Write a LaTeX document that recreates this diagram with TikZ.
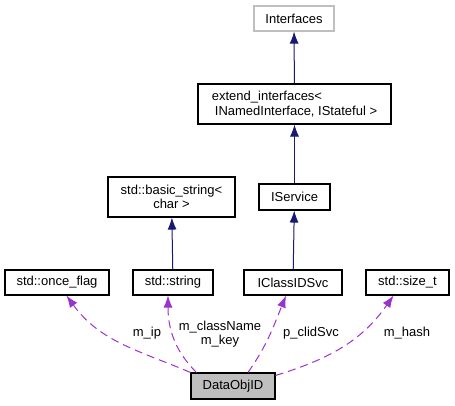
\documentclass[tikz,border=0pt]{standalone}
\usepackage{fontspec}
\setmainfont{Liberation Sans}
\usetikzlibrary{arrows.meta}

\definecolor{inhblue}{HTML}{191970}
\definecolor{usepurple}{HTML}{9A32CD}
\definecolor{boxgray}{HTML}{BFBFBF}

\tikzset{
    box/.style={draw=black, line width=1.1pt, fill=white, inner sep=2pt,
        minimum height=25pt, align=center,
        font=\fontsize{13}{14.3}\selectfont},
    inherit/.style={draw=inhblue, line width=1pt, -{Latex[length=12pt,width=9pt]}},
    member/.style={draw=usepurple, line width=1pt, dash pattern=on 8pt off 5pt,
        -{Latex[length=12pt,width=9pt]}},
    lbl/.style={align=center, inner sep=0pt, font=\fontsize{13}{14.3}\selectfont}
}

\begin{document}
\begin{tikzpicture}[x=1pt, y=1pt]
        \useasboundingbox (0,0) rectangle (455,405);

        % top of the hierarchy
        \node[box, draw=boxgray, minimum width=80pt] (interfaces) at (294,386.5) {Interfaces};
        \node[box, minimum width=193pt, minimum height=40pt, align=left] (extend) at (294.5,301)
            {extend\_interfaces<\\\hspace{3pt}INamedInterface, IStateful >};
        \node[box, minimum width=71pt, minimum height=26pt] (iservice) at (294.5,208) {IService};
        \node[box, minimum width=127pt, minimum height=40pt] (basicstr) at (171.5,208)
            {std::basic\_string<\\char >};

        % member types
        \node[box, minimum width=104pt] (once) at (57,122.5) {std::once\_flag};
        \node[box, minimum width=80pt] (string) at (173,122.5) {std::string};
        \node[box, minimum width=98pt] (iclassid) at (293,122.5) {IClassIDSvc};
        \node[box, minimum width=83pt] (sizet) at (407.5,122.5) {std::size\_t};

        % the class
        \node[box, fill=boxgray, minimum width=84pt, minimum height=26pt] (dobj) at (233,19) {DataObjID};

        % inheritance
        \draw[inherit] (extend) -- (interfaces);
        \draw[inherit] (iservice) -- (extend);
        \draw[inherit] (iclassid) -- (iservice);
        \draw[inherit] (string) -- (basicstr);

        % members
        \draw[member] (dobj.north west) to[out=157, in=-54] (once);
        \draw[member] ([xshift=6pt]dobj.north west) to[out=135, in=-90] ([xshift=-5pt]string.south);
        \draw[member] ([xshift=15pt]dobj.north) to[out=55, in=-112] ([xshift=-7pt]iclassid.south);
        \draw[member] ([yshift=-3pt]dobj.north east) to[out=17, in=-125] ([xshift=-14pt]sizet.south);

        % member names
        \node[lbl] (lip) at (147,72) {m\_ip};
        \node[lbl] (lkey) at (220,71) {m\_className\\m\_key};
        \node[lbl] (lclid) at (311,72) {p\_clidSvc};
        \node[lbl] (lhash) at (407,72) {m\_hash};
    \end{tikzpicture}
\end{document}
